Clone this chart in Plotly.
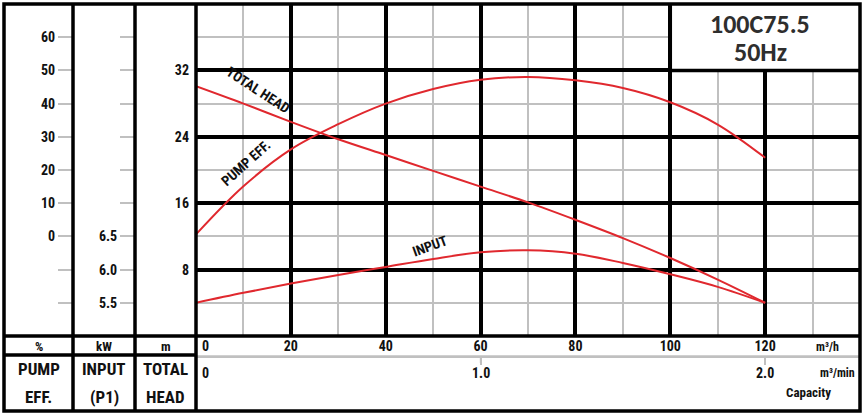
import plotly.graph_objects as go

W, H = 864, 420

# ---- data ----
q_m3h = [0, 10, 20, 30, 40, 50, 60, 70, 80, 90, 100, 110, 120]
head_m = [30.1, 28.0, 25.8, 23.7, 21.8, 19.9, 18.0, 16.1, 14.0, 11.8, 9.4, 6.8, 4.0]
eff_pct = [0.6, 15.1, 26.2, 33.8, 40.0, 44.4, 47.2, 48.0, 47.0, 44.7, 40.4, 33.7, 23.7]
input_kw = [5.50, 5.65, 5.79, 5.92, 6.04, 6.16, 6.26, 6.29, 6.24, 6.10, 5.93, 5.74, 5.50]

x_major = [20, 40, 60, 80, 100, 120]
x_major_text = ["20", "40", "60", "80", "100", "120"]
x_minor = [10, 30, 50, 70, 90, 110, 130]
head_ticks = [8, 16, 24, 32]
head_text = ["8", "16", "24", "32"]
head_minor = [4, 12, 20, 28, 36]
eff_ticks = [-20, -10, 0, 10, 20, 30, 40, 50, 60]
eff_text = ["", "", "0", "10", "20", "30", "40", "50", "60"]
kw_ticks = [5.5, 6.0, 6.5, 7.0, 7.5, 8.0, 8.5, 9.0, 9.5]
kw_text = ["5.5", "6.0", "6.5", "", "", "", "", "", ""]
min_ticks = [1.0, 2.0]
min_text = ["1.0", "2.0"]

NARROW = "Roboto Condensed, Open Sans Condensed, sans-serif"
TITLEF = "Carlito, Lato, sans-serif"
RED = "#e0282e"
GRAY = "#c0c0c0"
TXT = "#111111"


def px(x):
    return x / W


def py(y):
    return 1 - y / H


tickfont = dict(family=NARROW, size=14, color=TXT, weight="bold")

fig = go.Figure()
line = dict(color=RED, width=2, shape="spline")
fig.add_trace(go.Scatter(x=q_m3h, y=head_m, xaxis="x", yaxis="y", mode="lines",
                         line=line, hoverinfo="skip", showlegend=False))
fig.add_trace(go.Scatter(x=q_m3h, y=eff_pct, xaxis="x", yaxis="y2", mode="lines",
                         line=line, hoverinfo="skip", showlegend=False))
fig.add_trace(go.Scatter(x=q_m3h, y=input_kw, xaxis="x", yaxis="y3", mode="lines",
                         line=line, hoverinfo="skip", showlegend=False))
# invisible carrier so the m³/min axis (x2 on its thin strip y4) exists
fig.add_trace(go.Scatter(x=min_ticks, y=[0.5, 0.5], xaxis="x2", yaxis="y4", mode="markers",
                         marker=dict(size=1, opacity=0), hoverinfo="skip", showlegend=False))

fig.update_layout(
    width=W, height=H,
    margin=dict(l=0, r=0, t=0, b=0, autoexpand=False),
    paper_bgcolor="white", plot_bgcolor="white",
    showlegend=False,
    xaxis=dict(domain=[px(196), px(860)], range=[0, 140], tickmode="array",
               tickvals=x_major, ticktext=x_major_text, showgrid=True,
               gridcolor="black", gridwidth=3.5, ticks="", zeroline=False,
               showline=False, tickfont=tickfont, anchor="y",
               minor=dict(tickmode="array", tickvals=x_minor, showgrid=True,
                          gridcolor=GRAY, gridwidth=1.5, ticks="")),
    yaxis=dict(domain=[py(336), py(4)], range=[0, 40], tickmode="array",
               tickvals=head_ticks, ticktext=head_text, showgrid=True,
               gridcolor="black", gridwidth=3.5, ticks="", zeroline=False,
               showline=False, tickfont=tickfont, anchor="x",
               ticklabelstandoff=6,
               minor=dict(tickmode="array", tickvals=head_minor, showgrid=True,
                          gridcolor=GRAY, gridwidth=1.5, ticks="")),
    yaxis2=dict(overlaying="y", anchor="free", position=px(73), side="left",
                range=[-30, 70], tickmode="array", tickvals=eff_ticks,
                ticktext=eff_text, ticks="outside", ticklen=15, tickcolor=GRAY,
                tickwidth=1.5, showgrid=False, zeroline=False, showline=False,
                tickfont=tickfont),
    yaxis3=dict(overlaying="y", anchor="free", position=px(135), side="left",
                range=[5, 10], tickmode="array", tickvals=kw_ticks,
                ticktext=kw_text, ticks="outside", ticklen=15, tickcolor=GRAY,
                tickwidth=1.5, showgrid=False, zeroline=False, showline=False,
                tickfont=tickfont),
    yaxis4=dict(domain=[py(356), py(352)], range=[0, 1], visible=False,
                anchor="x2"),
    xaxis2=dict(domain=[px(196), px(860)], anchor="y4", side="bottom",
                range=[0, 140 / 60], tickmode="array", tickvals=min_ticks,
                ticktext=min_text, showticklabels=False, ticks="outside", ticklen=7,
                tickcolor=GRAY, tickwidth=1.5, showgrid=False, zeroline=False,
                showline=True, linecolor=GRAY, linewidth=1.5, tickfont=tickfont),
)

shapes = []
BL = dict(color="black", width=3.5)
GL = dict(color=GRAY, width=1.5)
# m³/min scale line and its ticks
shapes.append(dict(type="line", xref="paper", yref="paper", x0=px(196), x1=px(860),
                   y0=py(356), y1=py(356), line=GL, layer="above"))
for v in min_ticks:
    shapes.append(dict(type="line", xref="x2", yref="paper", x0=v, x1=v,
                       y0=py(356), y1=py(363), line=GL, layer="above"))
shapes.append(dict(type="rect", xref="paper", yref="paper", x0=px(4), x1=px(860),
                   y0=py(411), y1=py(4), line=BL, layer="above"))
for xv in (73, 135, 196):
    shapes.append(dict(type="line", xref="paper", yref="paper", x0=px(xv), x1=px(xv),
                       y0=py(411), y1=py(4), line=BL, layer="above"))
shapes.append(dict(type="line", xref="paper", yref="paper", x0=px(4), x1=px(860),
                   y0=py(336), y1=py(336), line=BL, layer="above"))
shapes.append(dict(type="line", xref="paper", yref="paper", x0=px(4), x1=px(196),
                   y0=py(355), y1=py(355), line=BL, layer="above"))
shapes.append(dict(type="rect", xref="x", yref="y", x0=100, x1=140, y0=32, y1=40,
                   fillcolor="white", line=BL, layer="above"))
fig.update_layout(shapes=shapes)

ann = []


def txt(x, y, s, size=14, xanchor="center", font=NARROW, color=TXT, angle=0,
        xref="paper", yref="paper"):
    if xref == "paper":
        x = px(x)
    if yref == "paper":
        y = py(y)
    ann.append(dict(x=x, y=y, xref=xref, yref=yref, text=s, showarrow=False,
                    xanchor=xanchor, yanchor="middle", textangle=angle,
                    font=dict(family=font, size=size, color=color, weight="bold")))


txt(760, 24, "100C75.5", size=26, font=TITLEF, color="#2e2e2e")
txt(760, 52, "50Hz", size=26, font=TITLEF, color="#2e2e2e")
txt(13.1, 29.6, "TOTAL HEAD", angle=33, xref="x", yref="y")
txt(10.5, 20.8, "PUMP EFF.", angle=-42, xref="x", yref="y")
txt(49.3, 10.8, "INPUT", angle=-20, xref="x", yref="y")
txt(205, 346, "0")
txt(205, 373, "0")
for v, t in zip(min_ticks, min_text):
    txt(v, 373, t, xref="x2")
txt(827, 347, "m³/h", size=12)
txt(818, 373, "m³/min", size=12, xanchor="left")
txt(808, 392, "Capacity", size=13)
for cx, unit, l1, l2 in ((38.5, "%", "PUMP", "EFF."), (104, "kW", "INPUT", "(P1)"),
                         (165.5, "m", "TOTAL", "HEAD")):
    txt(cx, 346, unit, size=13)
    txt(cx, 369, l1, size=17)
    txt(cx, 397, l2, size=17)

fig.update_layout(annotations=ann)
fig.write_html("out.html", config={"displayModeBar": False},
               post_script="document.body.style.margin='0';")
